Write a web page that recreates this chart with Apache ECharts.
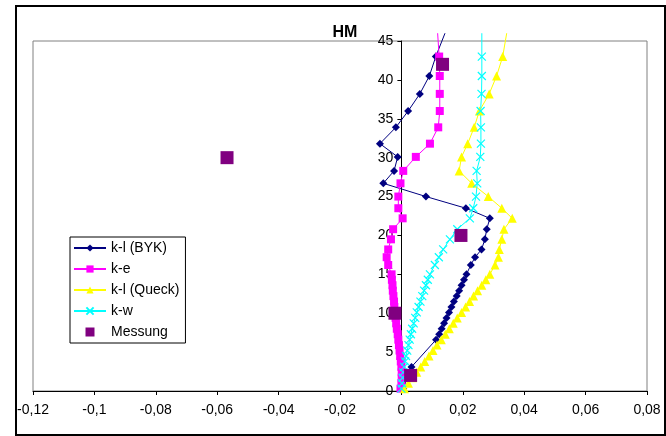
<!DOCTYPE html>
<html>
<head>
<meta charset="utf-8">
<script src="https://cdn.jsdelivr.net/npm/echarts@6/dist/echarts.min.js"></script>
<style>
  html, body { margin: 0; padding: 0; background: #fff; }
  #chart { width: 666px; height: 436px; }
</style>
</head>
<body>
<div id="chart"></div>
<script>
// Depths (m) shared by the profiles in the upper section
const depthUpper = [46, 43, 40.5, 38.2, 36, 33.9, 31.8, 30.1, 28.3, 26.7, 25.0, 23.5, 22.2,
                    20.8, 19.5, 18.2, 17.2, 16.2, 15.0];
// Dense depths in the lower section
const depthLower = [14.3, 13.6, 12.9, 12.2, 11.5, 10.8, 10.1, 9.4, 8.7, 8.0, 7.3, 6.6, 5.9,
                    5.2, 4.5, 3.8, 3.1, 2.4, 1.7, 1.0, 0.3];
const depthBykLower = [14.3, 13.6, 12.9, 12.2, 11.5, 10.8, 10.1, 9.4, 8.7, 8.0, 7.3, 6.6, 3.1, 0.3];

// k-l (BYK)
const bykUpper = [0.0142, 0.0112, 0.0091, 0.0060, 0.0022, -0.0018, -0.0070, -0.0012, -0.0024,
                  -0.0059, 0.0080, 0.0210, 0.0288, 0.0278, 0.0272, 0.0261, 0.0240, 0.0226, 0.0212];
const bykLower = [0.0204, 0.0196, 0.0188, 0.0180, 0.0171, 0.0163, 0.0155, 0.0147, 0.0139,
                  0.0131, 0.0123, 0.0113, 0.0033, 0.0006];
// k-e
const keUpper = [0.0118, 0.0123, 0.0125, 0.0125, 0.0125, 0.0120, 0.0093, 0.0047, 0.0006,
                 -0.0003, -0.0010, -0.0010, 0.0004, -0.0027, -0.0034, -0.0043, -0.0048, -0.0043, -0.0032];
const keLower = [-0.0031, -0.0029, -0.0028, -0.0026, -0.0024, -0.0023, -0.0021, -0.0019, -0.0017,
                 -0.0015, -0.0012, -0.0010, -0.0008, -0.0006, -0.0004, -0.0002, 0.0000, 0.0001,
                 0.0001, 0.0000, -0.0003];
// k-l (Queck)
const queckUpper = [0.0343, 0.0330, 0.0310, 0.0286, 0.0254, 0.0237, 0.0216, 0.0196, 0.0188,
                    0.0229, 0.0283, 0.0327, 0.0361, 0.0334, 0.0327, 0.0319, 0.0316, 0.0305, 0.0288];
const queckLower = [0.0275, 0.0262, 0.0248, 0.0235, 0.0222, 0.0209, 0.0196, 0.0182, 0.0169,
                    0.0156, 0.0143, 0.0130, 0.0116, 0.0103, 0.0090, 0.0076, 0.0063, 0.0050,
                    0.0036, 0.0023, 0.0010];
// k-w
const kwUpper = [0.0262, 0.0262, 0.0262, 0.0261, 0.0258, 0.0259, 0.0259, 0.0257, 0.0245,
                 0.0247, 0.0243, 0.0234, 0.0223, 0.0182, 0.0158, 0.0136, 0.0122, 0.0109, 0.0093];
const kwLower = [0.0086, 0.0080, 0.0074, 0.0068, 0.0062, 0.0056, 0.0050, 0.0045, 0.0040,
                 0.0035, 0.0031, 0.0027, 0.0023, 0.0019, 0.0015, 0.0012, 0.0009, 0.0006,
                 0.0004, 0.0002, 0.0000];
// Messung (measured points)
const messX = [-0.0568, 0.0134, 0.0194, -0.0021, 0.0030];
const messY = [30, 42, 20, 10, 2];

const xTicks = { min: -0.12, max: 0.08, step: 0.02 };
const yTicks = { min: 0, max: 45, step: 5 };

const FONT = 'Liberation Sans, Arial, sans-serif';
const W = 666, H = 436;
const GRID = { left: 33, right: 19, top: 41, bottom: 45 };

// Horizontal distance from the plot's left edge to x = 0, where the depth axis sits
const plotWidth = W - GRID.left - GRID.right;
const zeroOffset = (0 - xTicks.min) / (xTicks.max - xTicks.min) * plotWidth;

// Pair x values with depths; the first (topmost) point carries no marker
function profile(xsUp, xsLow, depthsLow) {
  const xs = xsUp.concat(xsLow);
  const ys = depthUpper.concat(depthsLow);
  return xs.map((x, i) => i === 0 ? { value: [x, ys[i]], symbol: 'none' } : [x, ys[i]]);
}

function lineSeries(name, data, color, symbol, size, extra) {
  return Object.assign({
    name, type: 'line', data, clip: false,
    symbol, symbolSize: size, showAllSymbol: true,
    lineStyle: { color, width: 1 },
    itemStyle: { color, borderColor: color, borderWidth: 0 },
    emphasis: { disabled: true },
    animation: false
  }, extra || {});
}

const fmt = v => String(Math.round(v * 100) / 100).replace('.', ',');

const chart = echarts.init(document.getElementById('chart'), null, { renderer: 'canvas' });
chart.setOption({
  backgroundColor: '#fff',
  animation: false,
  title: {
    text: 'HM', left: 340, top: 20, textAlign: 'center',
    textStyle: { fontFamily: FONT, fontSize: 16, fontWeight: 'bold', color: '#000' }
  },
  graphic: [{
    type: 'rect', silent: true,
    shape: { x: 16, y: 6, width: 649, height: 429 },
    style: { fill: 'none', stroke: '#000', lineWidth: 2 }
  }],
  grid: Object.assign({
    show: true, borderColor: '#808080', borderWidth: 1, backgroundColor: 'transparent'
  }, GRID),
  legend: {
    orient: 'vertical', left: 70, top: 237,
    padding: [3, 6, 3, 3],
    itemGap: 5, itemWidth: 32, itemHeight: 9,
    borderColor: '#000', borderWidth: 1, backgroundColor: '#fff',
    textStyle: { fontFamily: FONT, fontSize: 14, color: '#000', lineHeight: 16 },
    data: ['k-l (BYK)', 'k-e', 'k-l (Queck)', 'k-w',
           { name: 'Messung', icon: 'path://M0,0H10V10H0Z' }]
  },
  xAxis: {
    type: 'value', min: xTicks.min, max: xTicks.max, interval: xTicks.step,
    axisLine: { onZero: false, lineStyle: { color: '#000', width: 1 } },
    axisTick: { show: true, length: 4, lineStyle: { color: '#000' } },
    axisLabel: { formatter: fmt, fontFamily: FONT, fontSize: 14, color: '#000', margin: 12 },
    splitLine: { show: false }
  },
  yAxis: {
    type: 'value', min: yTicks.min, max: yTicks.max, interval: yTicks.step,
    position: 'left', offset: -zeroOffset,
    axisLine: { onZero: false, lineStyle: { color: '#000', width: 1 } },
    axisTick: { show: true, length: 4, lineStyle: { color: '#000' } },
    axisLabel: { fontFamily: FONT, fontSize: 14, color: '#000', margin: 8 },
    splitLine: { show: false }
  },
  series: [
    lineSeries('k-l (BYK)', profile(bykUpper, bykLower, depthBykLower), '#000080', 'diamond', 8),
    lineSeries('k-e', profile(keUpper, keLower, depthLower), '#FF00FF', 'rect', 8),
    lineSeries('k-l (Queck)', profile(queckUpper, queckLower, depthLower), '#FFFF00', 'triangle', 9),
    lineSeries('k-w', profile(kwUpper, kwLower, depthLower), '#00FFFF',
      'path://M0,0L10,10M10,0L0,10', 8,
      { itemStyle: { color: 'none', borderColor: '#00FFFF', borderWidth: 1.2 } }),
    {
      name: 'Messung', type: 'scatter', clip: false,
      data: messX.map((x, i) => [x, messY[i]]),
      symbol: 'rect', symbolSize: 13,
      itemStyle: { color: '#800080', opacity: 1 },
      emphasis: { disabled: true },
      z: 5
    }
  ]
});
</script>
</body>
</html>
